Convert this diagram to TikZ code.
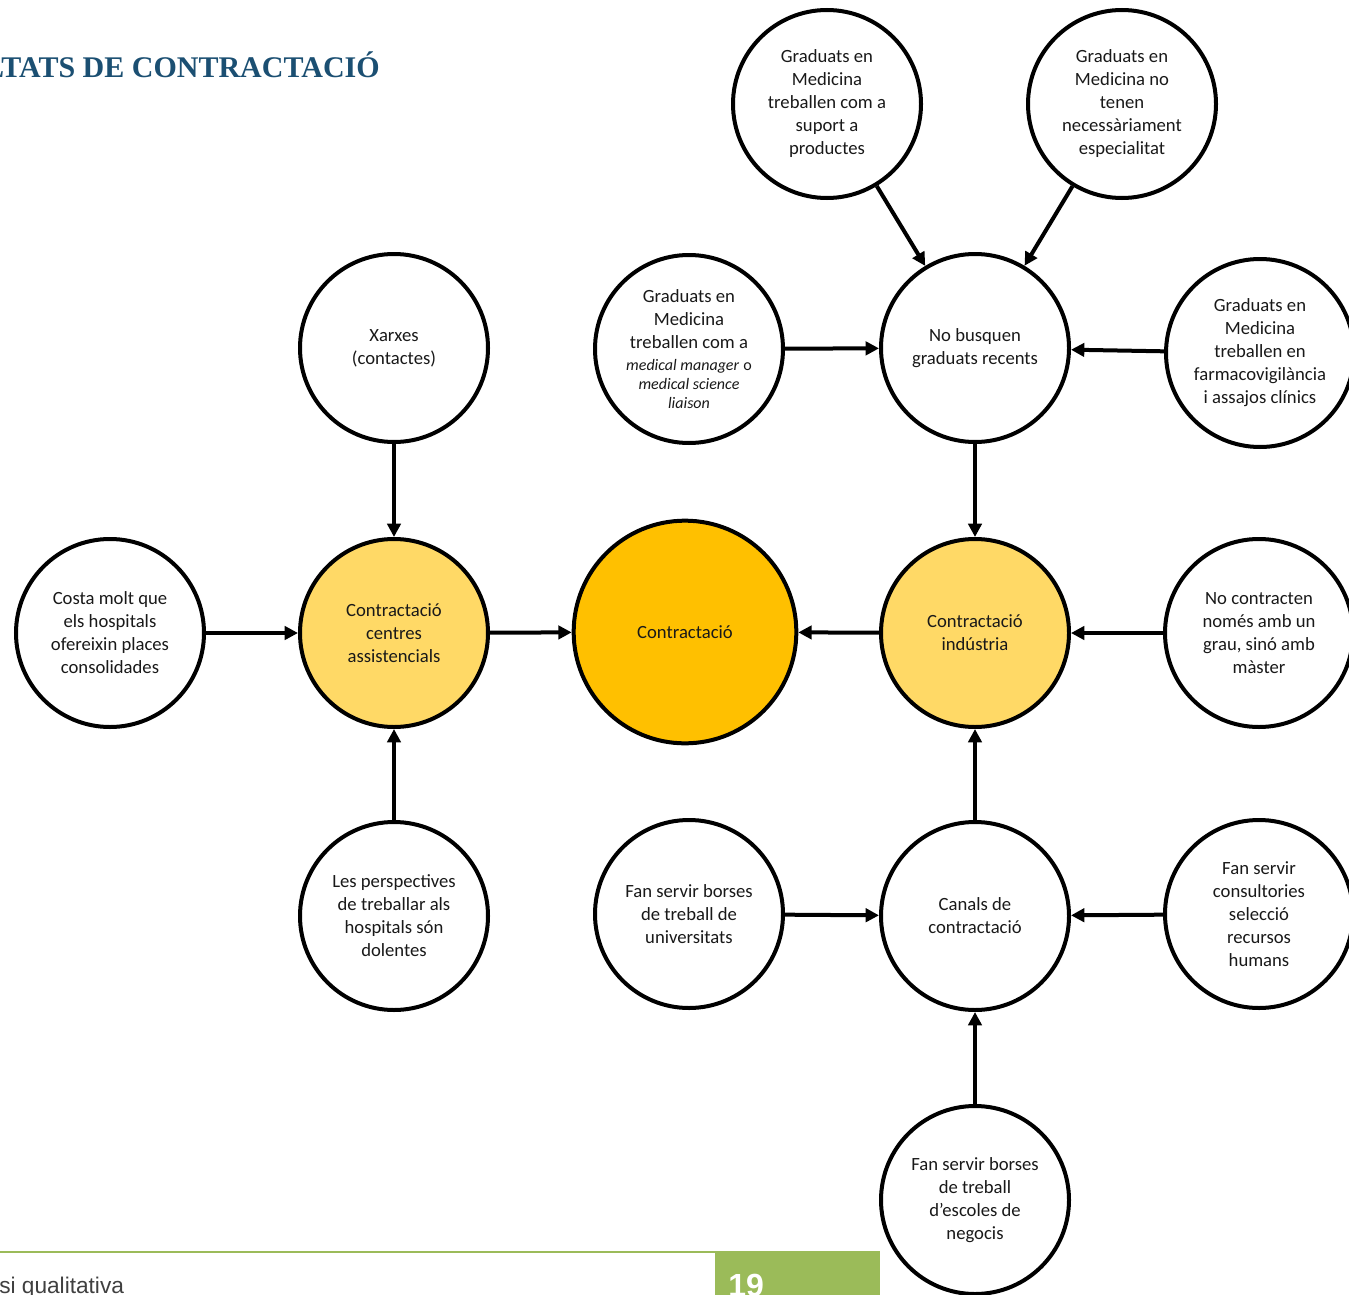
\documentclass[tikz,border=0pt]{standalone}
\usepackage{fontspec}
\setmainfont{Carlito}
\newfontfamily\titlefont{Liberation Serif}
\newfontfamily\footfont{Liberation Sans}
\usetikzlibrary{arrows.meta}
\definecolor{hubfill}{HTML}{FFD966}
\definecolor{mainfill}{HTML}{FFC000}
\definecolor{titleblue}{HTML}{1B4F72}
\definecolor{footgreen}{HTML}{9BBB59}
\definecolor{footgray}{HTML}{404040}
\tikzset{
  circ/.style={circle, draw=black, line width=3pt, fill=white, minimum size=141pt, inner sep=0pt,
    align=center, font=\fontsize{14}{17.25}\selectfont, text=black!90},
  hub/.style={circ, fill=hubfill},
  mainc/.style={circ, fill=mainfill, minimum size=167pt},
  arr/.style={line width=3pt, -{Triangle[length=10pt,width=10pt]}}
}
\newcommand{\smit}{\fontsize{12}{14.25}\selectfont}
\begin{document}
\begin{tikzpicture}[x=0.75pt,y=-0.75pt]
\useasboundingbox (0,0) rectangle (1349,1295);
% title and footer
\node[anchor=base east, inner sep=0pt, font=\titlefont\bfseries\fontsize{22.5}{26}\selectfont, text=titleblue] (title) at (380,78) {LTATS DE CONTRACTACIÓ};
\fill[footgreen] (0,1251) rectangle (715,1253);
\fill[footgreen] (715,1251) rectangle (880,1300);
\node[anchor=base west, inner sep=0pt, font=\footfont\fontsize{17}{20}\selectfont, text=footgray] (foot) at (-1,1293) {si qualitativa};
\node[anchor=base west, inner sep=0pt, font=\footfont\bfseries\fontsize{24}{28}\selectfont, text=white] (page) at (728,1296) {19};
% nodes
\node[circ] (suport) at (827,104) {Graduats en\\Medicina\\treballen com a\\suport a\\productes};
\node[circ] (noesp) at (1122,104) {Graduats en\\Medicina no\\tenen\\necessàriament\\especialitat};
\node[circ] (xarxes) at (394,348) {Xarxes\\(contactes)};
\node[circ] (medman) at (689,349) {Graduats en\\Medicina\\treballen com a\\[-1pt]{\smit\itshape medical manager} {\smit o}\\[-3pt]{\smit\itshape medical science}\\[-3pt]{\smit\itshape liaison}};
\node[circ] (nobusq) at (975,348) {No busquen\\graduats recents};
\node[circ] (farmaco) at (1260,353) {Graduats en\\Medicina\\treballen en\\farmacovigilància\\i assajos clínics};
\node[circ] (costa) at (110,633) {Costa molt que\\els hospitals\\ofereixin places\\consolidades};
\node[hub] (centres) at (394,633) {Contractació\\centres\\assistencials};
\node[mainc] (contr) at (685,632) {Contractació};
\node[hub] (industria) at (975,633) {Contractació\\indústria};
\node[circ] (nocontr) at (1259,633) {No contracten\\només amb un\\grau, sinó amb\\màster};
\node[circ] (perspect) at (394,916) {Les perspectives\\de treballar als\\hospitals són\\dolentes};
\node[circ] (univ) at (689,914) {Fan servir borses\\de treball de\\universitats};
\node[circ] (canals) at (975,916) {Canals de\\contractació};
\node[circ] (consult) at (1259,914) {Fan servir\\consultories\\selecció\\recursos\\humans};
\node[circ] (escoles) at (975,1200) {Fan servir borses\\de treball\\d’escoles de\\negocis};
% connectors
\draw[arr] (suport) -- (nobusq);
\draw[arr] (noesp) -- (nobusq);
\draw[arr] (medman) -- (nobusq);
\draw[arr] (farmaco) -- (nobusq);
\draw[arr] (nobusq) -- (industria);
\draw[arr] (xarxes) -- (centres);
\draw[arr] (costa) -- (centres);
\draw[arr] (centres) -- (contr);
\draw[arr] (industria) -- (contr);
\draw[arr] (nocontr) -- (industria);
\draw[arr] (perspect) -- (centres);
\draw[arr] (canals) -- (industria);
\draw[arr] (univ) -- (canals);
\draw[arr] (consult) -- (canals);
\draw[arr] (escoles) -- (canals);
\end{tikzpicture}
\end{document}
